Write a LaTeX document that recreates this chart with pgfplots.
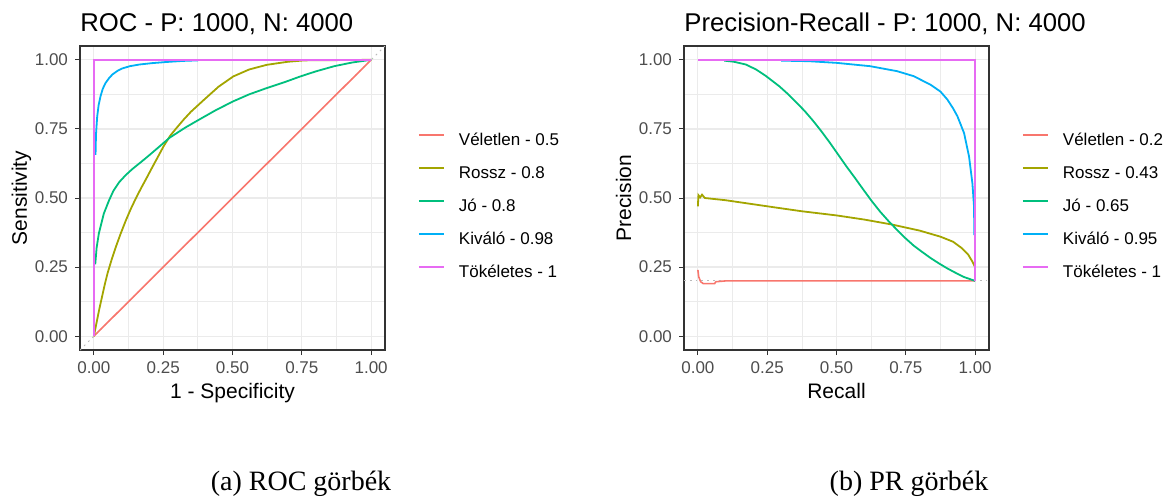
\documentclass[border=0pt]{standalone}
\usepackage{fontspec}
\setmainfont{Liberation Sans}
\newfontfamily\capfont{Liberation Serif}
\usepackage{pgfplots}
\pgfplotsset{compat=1.18}
\definecolor{cR}{HTML}{F8766D}
\definecolor{cO}{HTML}{A3A500}
\definecolor{cG}{HTML}{00BF7D}
\definecolor{cB}{HTML}{00B0F6}
\definecolor{cM}{HTML}{E76BF3}
\definecolor{gtick}{HTML}{4D4D4D}
\definecolor{gborder}{HTML}{333333}
\definecolor{ggrid}{HTML}{EBEBEB}
\pgfplotsset{
 ggstyle/.style={
  scale only axis, width=152.5pt, height=152pt,
  xmin=-0.05,xmax=1.05,ymin=-0.05,ymax=1.05,
  xtick={0,0.25,0.5,0.75,1}, ytick={0,0.25,0.5,0.75,1},
  xticklabels={0.00,0.25,0.50,0.75,1.00}, yticklabels={0.00,0.25,0.50,0.75,1.00},
  minor xtick={0.125,0.375,0.625,0.875}, minor ytick={0.125,0.375,0.625,0.875},
  grid=both, major grid style={draw=ggrid, line width=0.6pt}, minor grid style={draw=ggrid, line width=0.35pt},
  tick align=outside, tick pos=left, major tick length=2.5pt, minor tick length=0pt,
  every tick/.style={draw=gborder, line width=0.5pt},
  axis line style={draw=gborder, line width=0.8pt},
  ticklabel style={font=\fontsize{8.5}{10}\selectfont, text=gtick},
  /pgf/number format/assume math mode=true,
  label style={font=\fontsize{10.5}{12}\selectfont},
  title style={font=\fontsize{12.85}{15}\selectfont, at={(axis description cs:0,1)}, anchor=base west, inner sep=0pt, yshift=1.5pt},
  xlabel style={at={(axis description cs:0.5,0)}, anchor=base, inner sep=0pt, yshift=-24pt},
  ylabel style={at={(axis description cs:-0.1738,0.5)}, anchor=base, inner sep=0pt},
  legend style={at={(axis description cs:1.108,0.715)}, anchor=north west, draw=none, fill=none,
    inner sep=0pt, outer sep=0pt, row sep=8pt, font=\fontsize{8.5}{10}\selectfont,
    nodes={inner sep=0pt, text height=6.2pt, text depth=2.3pt},
    /tikz/every odd column/.append style={column sep=7pt}},
  legend cell align=left,
  legend image code/.code={\draw[##1, line width=1pt] (0pt,3pt) -- (12.5pt,3pt);},
  every axis plot/.append style={line width=0.9pt},
 }
}
\begin{document}
\begin{tikzpicture}
\path[use as bounding box] (0,0) rectangle (585pt,249.5pt);
% ---------- ROC ----------
\begin{axis}[ggstyle, at={(40pt,74.5pt)}, anchor=south west,
  title={ROC - P: 1000, N: 4000}, xlabel={1 - Specificity}, ylabel={Sensitivity}]
\addplot[gray!55, dotted, line width=0.5pt, forget plot] coordinates {(-0.05,-0.05) (1.05,1.05)};
\addplot[cR, line width=0.8pt] coordinates {(0,0) (0.25,0.25) (0.5,0.5) (0.75,0.75) (1,1)};
\addlegendentry{Véletlen - 0.5}
\addplot[cO] coordinates {(0,0) (0.01,0.05) (0.02,0.1) (0.03,0.145) (0.04,0.19) (0.05,0.23) (0.065,0.28) (0.08,0.325) (0.097,0.372) (0.115,0.418) (0.133,0.46) (0.152,0.5) (0.17,0.535) (0.19,0.572) (0.21,0.61) (0.23,0.647) (0.252,0.688) (0.275,0.725) (0.297,0.752) (0.325,0.785) (0.35,0.812) (0.4,0.858) (0.45,0.903) (0.503,0.94) (0.56,0.965) (0.624,0.982) (0.7,0.993) (0.76,0.998) (1,1)};
\addlegendentry{Rossz - 0.8}
\addplot[cG] coordinates {(0.005,0.26) (0.01,0.32) (0.018,0.372) (0.036,0.444) (0.055,0.492) (0.07,0.525) (0.091,0.557) (0.115,0.583) (0.139,0.605) (0.17,0.63) (0.2,0.655) (0.235,0.685) (0.273,0.718) (0.33,0.755) (0.382,0.785) (0.44,0.818) (0.503,0.85) (0.56,0.875) (0.624,0.898) (0.69,0.92) (0.745,0.94) (0.8,0.958) (0.867,0.977) (0.93,0.99) (1,1)};
\addlegendentry{Jó - 0.8}
\addplot[cB] coordinates {(0.006,0.656) (0.007,0.70) (0.008,0.735) (0.012,0.795) (0.017,0.835) (0.024,0.868) (0.032,0.895) (0.042,0.916) (0.055,0.934) (0.067,0.947) (0.085,0.96) (0.103,0.969) (0.13,0.977) (0.164,0.983) (0.21,0.988) (0.26,0.992) (0.32,0.996) (0.376,0.998)};
\addlegendentry{Kiváló - 0.98}
\addplot[cM] coordinates {(0,0) (0,1) (1,1)};
\addlegendentry{Tökéletes - 1}
\end{axis}
% ---------- PR ----------
\begin{axis}[ggstyle, at={(342pt,74.5pt)}, anchor=south west,
  title={Precision-Recall - P: 1000, N: 4000}, xlabel={Recall}, ylabel={Precision}]
\addplot[gray!55, dotted, line width=0.5pt, forget plot] coordinates {(-0.05,0.2) (1.05,0.2)};
\addplot[cR, line width=0.8pt] coordinates {(0,0.24) (0.003,0.215) (0.01,0.197) (0.02,0.19) (0.06,0.19) (0.065,0.197) (0.1,0.2) (0.5,0.2) (1,0.2)};
\addlegendentry{Véletlen - 0.2}
\addplot[cO] coordinates {(0,0.47) (0.002,0.51) (0.008,0.502) (0.015,0.512) (0.025,0.5) (0.1,0.492) (0.25,0.47) (0.375,0.452) (0.5,0.437) (0.6,0.422) (0.7,0.404) (0.8,0.382) (0.875,0.36) (0.92,0.342) (0.95,0.32) (0.975,0.295) (0.99,0.27) (1,0.25)};
\addlegendentry{Rossz - 0.43}
\addplot[cG] coordinates {(0.095,0.997) (0.13,0.993) (0.173,0.983) (0.21,0.965) (0.246,0.941) (0.294,0.904) (0.325,0.876) (0.355,0.846) (0.385,0.815) (0.415,0.78) (0.445,0.742) (0.476,0.70) (0.506,0.657) (0.536,0.614) (0.567,0.572) (0.597,0.53) (0.627,0.489) (0.657,0.451) (0.688,0.416) (0.718,0.385) (0.748,0.355) (0.778,0.328) (0.81,0.304) (0.839,0.283) (0.87,0.263) (0.9,0.245) (0.93,0.229) (0.96,0.214) (1,0.2)};
\addlegendentry{Jó - 0.65}
\addplot[cB] coordinates {(0.3,0.997) (0.4,0.995) (0.5,0.989) (0.621,0.977) (0.718,0.959) (0.778,0.941) (0.839,0.91) (0.875,0.885) (0.9,0.856) (0.92,0.825) (0.936,0.796) (0.96,0.735) (0.978,0.65) (0.99,0.554) (0.996,0.469) (0.997,0.366)};
\addlegendentry{Kiváló - 0.95}
\addplot[cM] coordinates {(0,1) (1,1) (1,0.2)};
\addlegendentry{Tökéletes - 1}
\end{axis}
% ---------- captions ----------
\node[anchor=base, inner sep=0pt, font=\capfont\fontsize{14}{16}\selectfont] at (150.5pt,4.5pt) {(a) ROC görbék};
\node[anchor=base, inner sep=0pt, font=\capfont\fontsize{14}{16}\selectfont] at (454.5pt,4.5pt) {(b) PR görbék};
\end{tikzpicture}
\end{document}
